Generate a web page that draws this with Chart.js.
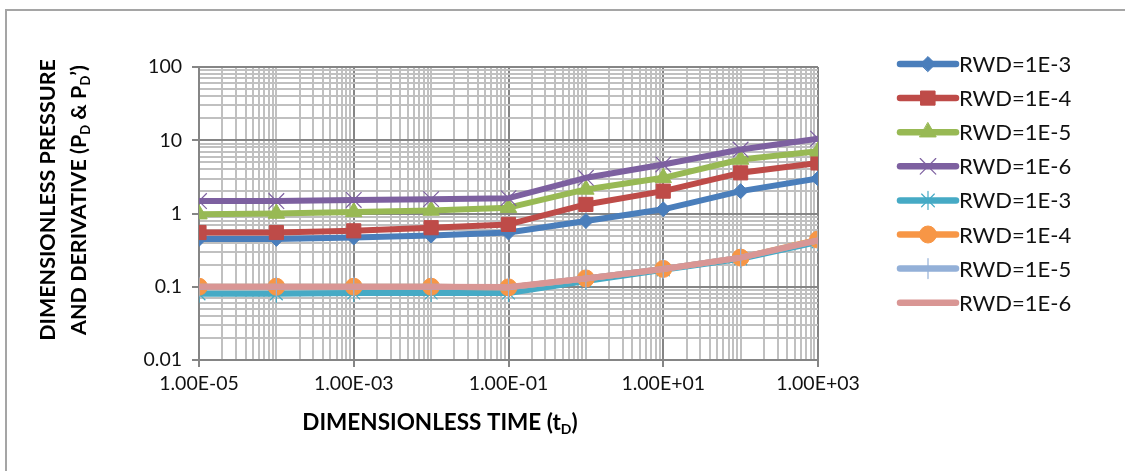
<!DOCTYPE html>
<html>
<head>
<meta charset="utf-8">
<script src="https://cdn.jsdelivr.net/npm/chart.js@4.4.0/dist/chart.umd.min.js"></script>
<style>
  html, body { margin: 0; padding: 0; background: #fff; }
  #wrap { width: 1125px; height: 471px; }
</style>
</head>
<body>
<div id="wrap"><canvas id="c" width="1125" height="471"></canvas></div>
<script>
// dimensionless time (x) — one point per decade
const times = [1e-5, 1e-4, 1e-3, 1e-2, 1e-1, 1e0, 1e1, 1e2, 1e3];

// legend names (pressure then derivative)
const seriesNames = ['RWD=1E-3', 'RWD=1E-4', 'RWD=1E-5', 'RWD=1E-6',
                     'RWD=1E-3', 'RWD=1E-4', 'RWD=1E-5', 'RWD=1E-6'];

// dimensionless pressure PD
const pd_1e3 = [0.45, 0.45, 0.47, 0.50, 0.55, 0.79, 1.14, 2.02, 3.0];
const pd_1e4 = [0.55, 0.55, 0.58, 0.64, 0.71, 1.33, 2.02, 3.59, 4.9];
const pd_1e5 = [0.98, 1.0, 1.05, 1.1, 1.2, 2.13, 3.07, 5.46, 7.08];
const pd_1e6 = [1.48, 1.48, 1.53, 1.57, 1.62, 3.07, 4.67, 7.47, 10.5];

// derivative PD'
const dpd_1e3 = [0.08, 0.08, 0.082, 0.082, 0.082, 0.12, 0.17, 0.24, 0.41];
const dpd_1e4 = [0.10, 0.10, 0.10, 0.10, 0.098, 0.13, 0.175, 0.25, 0.44];
const dpd_1e5 = [0.10, 0.10, 0.10, 0.10, 0.098, 0.13, 0.175, 0.25, 0.43];
const dpd_1e6 = [0.10, 0.10, 0.10, 0.10, 0.099, 0.13, 0.175, 0.25, 0.43];

// tick labels
const xTickLabels = ['1.00E-05', '1.00E-03', '1.00E-01', '1.00E+01', '1.00E+03'];
const yTickLabels = ['0.01', '0.1', '1', '10', '100'];

const allSeries = [pd_1e3, pd_1e4, pd_1e5, pd_1e6, dpd_1e3, dpd_1e4, dpd_1e5, dpd_1e6];

// excel 2010 style look
const colors = ['#4A7EBB', '#BE4B48', '#98B954', '#7D60A0', '#46AAC5', '#F79646', '#93B0D8', '#D99694'];
const markers = ['rectRot', 'rect', 'triangle', 'crossRot', 'star', 'circle', 'cross', false];
const radii = [7.5, 10, 9.5, 11, 9, 8.5, 10, 0];

const majorGrid = '#858585';
const minorGrid = '#c0c0c0';
const FONT = 'Lato';

// 1..9 per decade, with labels on the listed decades
function logTicks(minExp, maxExp, labels, step) {
  const out = [];
  let k = 0;
  for (let e = minExp; e <= maxExp; e++) {
    for (let m = 1; m <= 9; m++) {
      if (e === maxExp && m > 1) break;
      const isMajor = m === 1 && (e - minExp) % step === 0;
      out.push({ value: m * Math.pow(10, e), lvl: isMajor, lab: isMajor ? labels[k++] : '' });
    }
  }
  return out;
}

const datasets = allSeries.map((vals, i) => ({
  label: seriesNames[i],
  data: times.map((t, j) => ({ x: t, y: vals[j] })),
  borderColor: colors[i],
  backgroundColor: colors[i],
  borderWidth: 6,
  borderJoinStyle: 'round',
  borderCapStyle: 'round',
  pointStyle: markers[i],
  pointRadius: radii[i],
  pointHoverRadius: radii[i],
  pointBorderWidth: (markers[i] === 'crossRot' || markers[i] === 'star' || markers[i] === 'cross') ? 1.2 : 1,
  pointBackgroundColor: colors[i],
  pointBorderColor: colors[i],
  tension: 0,
  order: allSeries.length - i
}));

const gridOpts = {
  color: c => (c.tick && c.tick.lvl ? majorGrid : minorGrid),
  lineWidth: 2,
  tickColor: c => (c.tick && c.tick.lvl ? majorGrid : 'rgba(0,0,0,0)'),
  tickWidth: 2,
  tickLength: 7
};

// text with subscript pieces
function drawRich(ctx, parts, x, y, size) {
  const base = `bold ${size}px ${FONT}`;
  const small = `bold ${Math.round(size * 0.62)}px ${FONT}`;
  let w = 0;
  parts.forEach(p => { ctx.font = p.sub ? small : base; w += ctx.measureText(p.t).width; });
  let cx = x - w / 2;
  ctx.textBaseline = 'middle';
  ctx.textAlign = 'left';
  parts.forEach(p => {
    ctx.font = p.sub ? small : base;
    ctx.fillText(p.t, cx, p.sub ? y + size * 0.3 : y);
    cx += ctx.measureText(p.t).width;
  });
}

const decor = {
  id: 'decor',
  beforeDraw(chart) {
    const ctx = chart.ctx;
    ctx.save();
    ctx.strokeStyle = '#a5a5a5';
    ctx.lineWidth = 2;
    ctx.beginPath();
    ctx.moveTo(6, 480);
    ctx.lineTo(6, 10);
    ctx.lineTo(1130, 10);
    ctx.stroke();
    ctx.restore();
  },
  afterDraw(chart) {
    const ctx = chart.ctx;
    ctx.save();
    ctx.fillStyle = '#000';
    // y title, two lines
    ctx.translate(0, 200);
    ctx.rotate(-Math.PI / 2);
    drawRich(ctx, [{ t: 'DIMENSIONLESS PRESSURE' }], 0, 48, 21.5);
    drawRich(ctx, [{ t: 'AND DERIVATIVE (P' }, { t: 'D', sub: true }, { t: ' & P' },
                   { t: 'D', sub: true }, { t: '\u2019' }, { t: ')' }], 0, 79, 21.5);
    ctx.restore();

    ctx.save();
    ctx.fillStyle = '#000';
    drawRich(ctx, [{ t: 'DIMENSIONLESS TIME (t' }, { t: 'D', sub: true }, { t: ')' }], 440, 423, 22.5);
    ctx.restore();

    // legend: line + marker + name
    ctx.save();
    chart.data.datasets.forEach((ds, i) => {
      const y = 64 + i * 34.1;
      ctx.strokeStyle = ds.borderColor;
      ctx.lineWidth = 6.5;
      ctx.lineCap = 'round';
      ctx.beginPath();
      ctx.moveTo(900, y);
      ctx.lineTo(956, y);
      ctx.stroke();
      if (ds.pointStyle && Chart.helpers && Chart.helpers.drawPoint) {
        ctx.fillStyle = ds.pointBackgroundColor;
        ctx.strokeStyle = ds.pointBorderColor;
        ctx.lineWidth = ds.pointBorderWidth;
        Chart.helpers.drawPoint(ctx, { pointStyle: ds.pointStyle, radius: ds.pointRadius, borderWidth: ds.pointBorderWidth, rotation: 0 }, 928, y);
      }
      ctx.fillStyle = '#111';
      ctx.font = `22px ${FONT}`;
      ctx.textAlign = 'left';
      ctx.textBaseline = 'middle';
      ctx.fillText(ds.label, 959, y + 1);
    });
    ctx.restore();
  }
};

new Chart(document.getElementById('c'), {
  type: 'line',
  data: { datasets },
  options: {
    responsive: false,
    animation: false,
    events: [],
    layout: { padding: { left: 0, top: 67, right: 307, bottom: 0 } },
    plugins: { legend: { display: false }, tooltip: { enabled: false } },
    scales: {
      x: {
        type: 'logarithmic',
        min: 1e-5,
        max: 1e3,
        afterBuildTicks: s => { s.ticks = logTicks(-5, 3, xTickLabels, 2); },
        afterFit: s => { s.height = 111; },
        ticks: {
          autoSkip: false,
          maxRotation: 0,
          padding: 5,
          color: '#111',
          font: { family: FONT, size: 19.5 },
          callback: (v, i, ticks) => ticks[i].lab
        },
        grid: gridOpts,
        border: { display: true, color: majorGrid, width: 2 }
      },
      y: {
        type: 'logarithmic',
        min: 0.01,
        max: 100,
        afterBuildTicks: s => { s.ticks = logTicks(-2, 2, yTickLabels, 1); },
        afterFit: s => { s.width = 199; },
        ticks: {
          autoSkip: false,
          padding: 10,
          color: '#111',
          font: { family: FONT, size: 19.5 },
          callback: (v, i, ticks) => ticks[i].lab
        },
        grid: gridOpts,
        border: { display: true, color: majorGrid, width: 2 }
      }
    }
  },
  plugins: [decor]
});
</script>
</body>
</html>
